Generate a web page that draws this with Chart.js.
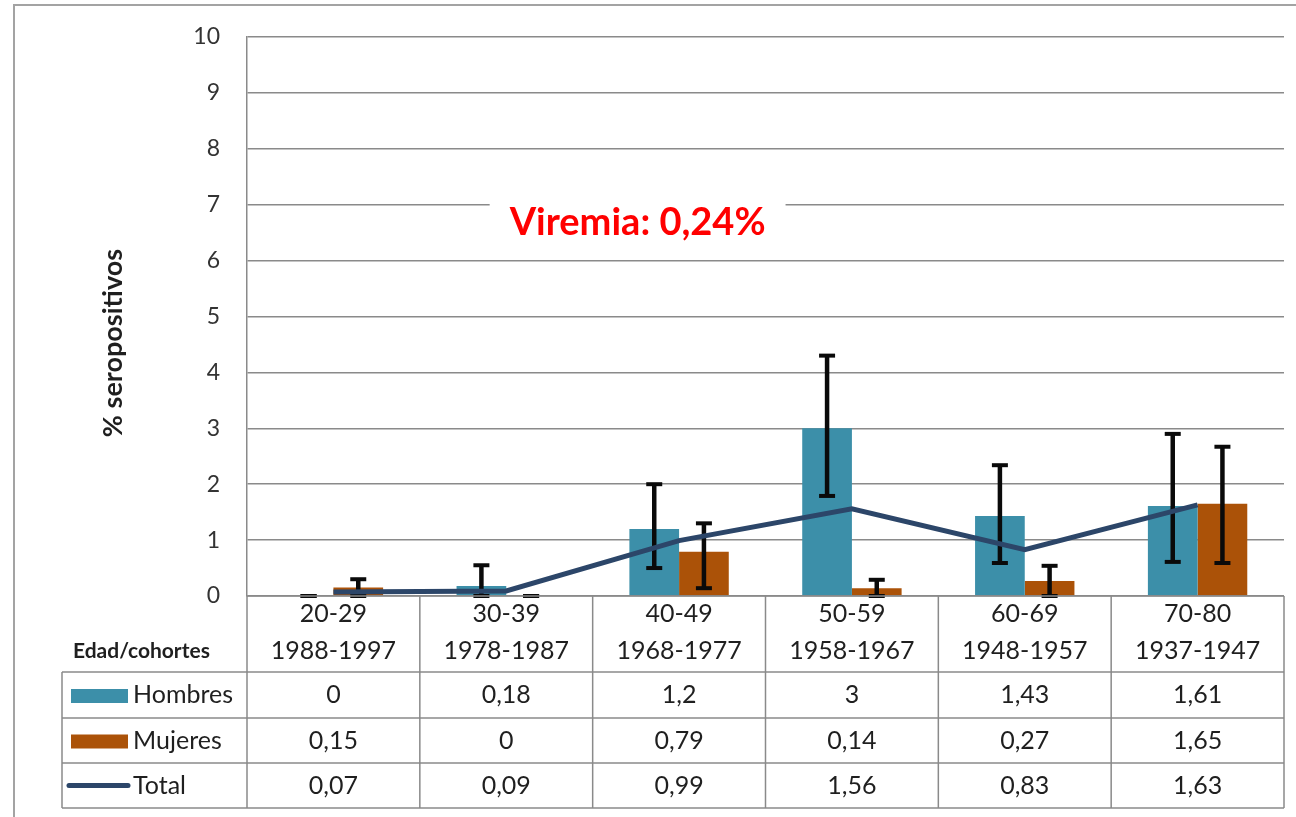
<!DOCTYPE html>
<html lang="es">
<head>
<meta charset="utf-8">
<title>% seropositivos por edad y cohorte</title>
<script src="https://cdn.jsdelivr.net/npm/chart.js@4.4.1/dist/chart.umd.min.js"></script>
<style>
  html, body { margin: 0; padding: 0; background: #fff; }
  #grafico { display: block; }
</style>
</head>
<body>
<canvas id="grafico" width="1296" height="817"></canvas>
<script>
// Grupos de edad y cohortes de nacimiento
const edades = ["20-29", "30-39", "40-49", "50-59", "60-69", "70-80"]
const cohortes = ["1988-1997", "1978-1987", "1968-1977", "1958-1967", "1948-1957", "1937-1947"]

// % seropositivos por sexo
const hombres = [0, 0.18, 1.2, 3, 1.43, 1.61]
const mujeres = [0.15, 0, 0.79, 0.14, 0.27, 1.65]
const total = [0.07, 0.09, 0.99, 1.56, 0.83, 1.63]

// Intervalos de confianza (límite inferior / superior)
const hombresInf = [0, 0, 0.5, 1.79, 0.59, 0.61]
const hombresSup = [0, 0.55, 2.0, 4.3, 2.34, 2.9]
const mujeresInf = [0, 0, 0.14, 0, 0, 0.59]
const mujeresSup = [0.3, 0, 1.3, 0.29, 0.54, 2.67]

const ejeY = [0, 10]
const viremia = "Viremia: 0,24%"

const COLOR_HOMBRES = "#3c8fa9"
const COLOR_MUJERES = "#ab5208"
const COLOR_TOTAL = "#2c4669"
const COLOR_LINEAS = "#8a8a8a"
const COLOR_TEXTO = "#1f1f1f"
const FUENTE = "Lato, 'Open Sans', sans-serif"

const intervalos = {
  0: { inf: hombresInf, sup: hombresSup },
  1: { inf: mujeresInf, sup: mujeresSup },
}

function fmt(v) {
  return String(v).replace(".", ",")
}

/**
 * Barras de error sobre cada serie de barras
 */
const barrasError = {
  id: "barrasError",
  afterDatasetDraw(chart, args) {
    const ic = intervalos[args.index]
    if (!ic) return
    const ctx = chart.ctx
    const y = chart.scales.y
    ctx.save()
    ctx.strokeStyle = "#0a0a0a"
    ctx.lineCap = "butt"
    args.meta.data.forEach((bar, i) => {
      const y1 = y.getPixelForValue(ic.inf[i])
      const y2 = y.getPixelForValue(ic.sup[i])
      ctx.lineWidth = 4.5
      ctx.beginPath()
      ctx.moveTo(bar.x, y1)
      ctx.lineTo(bar.x, y2)
      ctx.stroke()
      ctx.lineWidth = 4
      ;[y1, y2].forEach((yy) => {
        ctx.beginPath()
        ctx.moveTo(bar.x - 8, yy)
        ctx.lineTo(bar.x + 8, yy)
        ctx.stroke()
      })
    })
    ctx.restore()
  },
}

/**
 * Marco, título del eje, anotación y tabla de datos
 */
const tablaDatos = {
  id: "tablaDatos",
  beforeDraw(chart) {
    const ctx = chart.ctx
    ctx.save()
    ctx.fillStyle = "#fff"
    ctx.fillRect(0, 0, chart.width, chart.height)
    ctx.strokeStyle = "#a3a3a3"
    ctx.lineWidth = 2
    ctx.beginPath()
    ctx.moveTo(14, chart.height)
    ctx.lineTo(14, 5)
    ctx.lineTo(chart.width, 5)
    ctx.stroke()
    ctx.restore()
  },
  afterDraw(chart) {
    const ctx = chart.ctx
    const x = chart.scales.x
    const y = chart.scales.y
    const area = chart.chartArea
    const ancho = (area.right - area.left) / edades.length

    ctx.save()

    // Título del eje Y
    ctx.save()
    ctx.translate(113, 343)
    ctx.rotate(-Math.PI / 2)
    ctx.fillStyle = COLOR_TEXTO
    ctx.font = "bold 27px " + FUENTE
    ctx.textAlign = "center"
    ctx.textBaseline = "middle"
    ctx.fillText("% seropositivos", 0, 0)
    ctx.restore()

    // Anotación de viremia
    const vx = x.getPixelForValue(1) + ancho * 0.76
    const vy = y.getPixelForValue(6.68)
    ctx.font = "bold 38px " + FUENTE
    const w = ctx.measureText(viremia).width
    ctx.fillStyle = "#fff"
    ctx.fillRect(vx - w / 2 - 20, vy - 30, w + 40, 58)
    ctx.fillStyle = "#ff0000"
    ctx.textAlign = "center"
    ctx.textBaseline = "middle"
    ctx.fillText(viremia, vx, vy)

    // Tabla
    const filaCab = area.bottom + 76
    const filas = [filaCab, filaCab + 46, filaCab + 91, filaCab + 136]
    const izqLeyenda = 62

    ctx.strokeStyle = COLOR_LINEAS
    ctx.lineWidth = 1.5
    ctx.beginPath()
    ctx.moveTo(area.left, area.bottom)
    ctx.lineTo(area.right, area.bottom)
    filas.forEach((fy) => {
      ctx.moveTo(izqLeyenda, fy)
      ctx.lineTo(area.right, fy)
    })
    ctx.moveTo(izqLeyenda, filas[0])
    ctx.lineTo(izqLeyenda, filas[3])
    for (let i = 0; i <= edades.length; i++) {
      const bx = area.left + i * ancho
      ctx.moveTo(bx, area.bottom)
      ctx.lineTo(bx, filas[3])
    }
    ctx.stroke()

    ctx.fillStyle = COLOR_TEXTO
    ctx.textAlign = "center"
    ctx.textBaseline = "middle"
    ctx.font = "25px " + FUENTE
    edades.forEach((e, i) => {
      const cx = x.getPixelForValue(i)
      ctx.fillText(e, cx, area.bottom + 18)
      ctx.fillText(cohortes[i], cx, area.bottom + 55)
      ctx.fillText(fmt(hombres[i]), cx, (filas[0] + filas[1]) / 2)
      ctx.fillText(fmt(mujeres[i]), cx, (filas[1] + filas[2]) / 2)
      ctx.fillText(fmt(total[i]), cx, (filas[2] + filas[3]) / 2)
    })

    ctx.textAlign = "left"
    ctx.font = "bold 21px " + FUENTE
    ctx.fillText("Edad/cohortes", 73, area.bottom + 55)

    // Claves de leyenda
    const series = [
      { nombre: "Hombres", color: COLOR_HOMBRES, tipo: "barra" },
      { nombre: "Mujeres", color: COLOR_MUJERES, tipo: "barra" },
      { nombre: "Total", color: COLOR_TOTAL, tipo: "linea" },
    ]
    series.forEach((s, k) => {
      const cy = (filas[k] + filas[k + 1]) / 2
      if (s.tipo === "barra") {
        ctx.fillStyle = s.color
        ctx.fillRect(71, cy - 6, 57, 14)
      } else {
        ctx.strokeStyle = s.color
        ctx.lineWidth = 5
        ctx.lineCap = "round"
        ctx.beginPath()
        ctx.moveTo(69, cy)
        ctx.lineTo(128, cy)
        ctx.stroke()
      }
      ctx.fillStyle = COLOR_TEXTO
      ctx.font = "25px " + FUENTE
      ctx.fillText(s.nombre, 133, cy)
    })

    ctx.restore()
  },
}

new Chart(document.getElementById("grafico"), {
  data: {
    labels: edades,
    datasets: [
      {
        type: "bar",
        label: "Hombres",
        data: hombres,
        backgroundColor: COLOR_HOMBRES,
        categoryPercentage: 0.575,
        barPercentage: 1,
        order: 1,
      },
      {
        type: "bar",
        label: "Mujeres",
        data: mujeres,
        backgroundColor: COLOR_MUJERES,
        categoryPercentage: 0.575,
        barPercentage: 1,
        order: 1,
      },
      {
        type: "line",
        label: "Total",
        data: total,
        borderColor: COLOR_TOTAL,
        borderWidth: 5,
        pointRadius: 0,
        tension: 0,
        order: 0,
      },
    ],
  },
  options: {
    responsive: false,
    animation: false,
    layout: {
      padding: { left: 0, top: 37, right: 12, bottom: 221 },
    },
    plugins: {
      legend: { display: false },
      tooltip: { enabled: false },
    },
    scales: {
      x: {
        display: false,
      },
      y: {
        min: ejeY[0],
        max: ejeY[1],
        ticks: {
          stepSize: 1,
          padding: 27,
          color: "#333",
          font: { family: FUENTE, size: 23 },
        },
        grid: {
          color: COLOR_LINEAS,
          lineWidth: 1.5,
          drawTicks: false,
        },
        border: {
          color: COLOR_LINEAS,
          width: 1.5,
        },
        afterFit(scale) {
          // ancho fijo del eje y sin margen extra arriba
          scale.width = 247
          scale.paddingTop = 0
        },
      },
    },
  },
  plugins: [barrasError, tablaDatos],
})
</script>
</body>
</html>
